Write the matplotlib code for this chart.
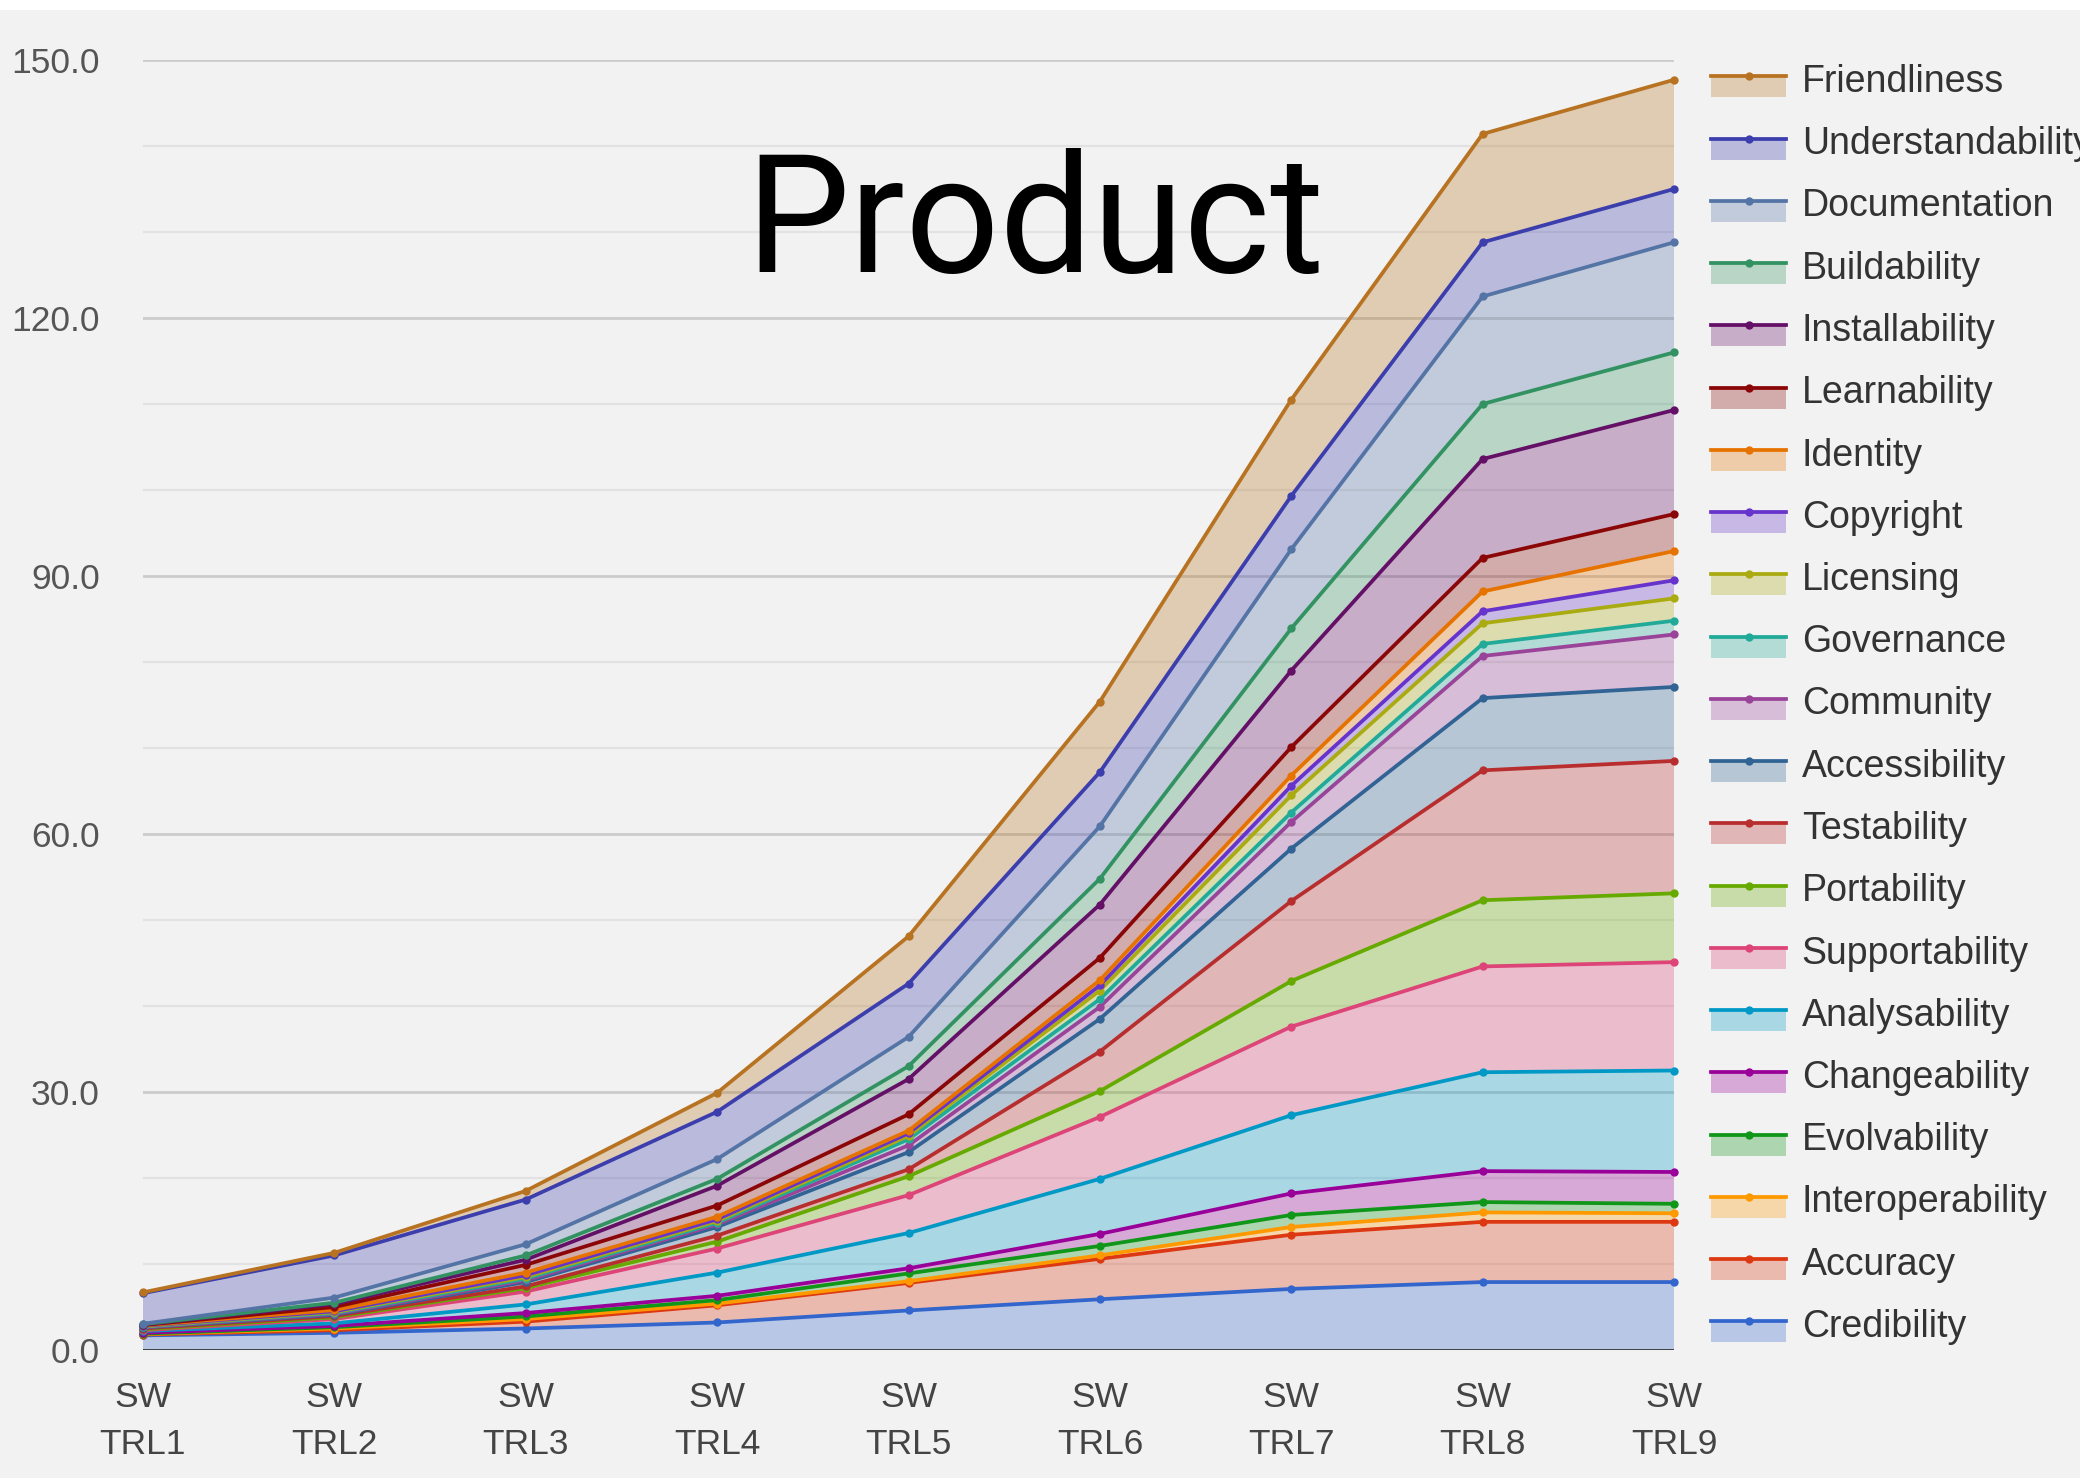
import numpy as np
import matplotlib
matplotlib.use("Agg")
import matplotlib.pyplot as plt
from matplotlib.legend_handler import HandlerBase
from matplotlib.patches import Rectangle
from matplotlib.lines import Line2D

# ---------------- data ----------------
categories = ["SW\nTRL1", "SW\nTRL2", "SW\nTRL3", "SW\nTRL4", "SW\nTRL5",
              "SW\nTRL6", "SW\nTRL7", "SW\nTRL8", "SW\nTRL9"]

# series listed bottom -> top of the stack
Credibility       = [1.70, 2.00, 2.50, 3.20, 4.60, 5.90, 7.10, 7.90, 7.90]
Accuracy          = [0.10, 0.30, 0.80, 2.00, 3.20, 4.70, 6.30, 7.00, 7.00]
Interoperability  = [0.05, 0.20, 0.30, 0.20, 0.20, 0.40, 0.90, 1.10, 1.00]
Evolvability      = [0.05, 0.15, 0.30, 0.40, 0.90, 1.10, 1.40, 1.20, 1.10]
Changeability     = [0.10, 0.15, 0.40, 0.50, 0.60, 1.40, 2.50, 3.60, 3.70]
Analysability     = [0.20, 0.30, 1.00, 2.70, 4.10, 6.40, 9.10, 11.50, 11.80]
Supportability    = [0.10, 0.50, 1.50, 2.80, 4.40, 7.20, 10.30, 12.30, 12.60]
Portability       = [0.10, 0.20, 0.40, 0.80, 2.20, 3.00, 5.30, 7.70, 8.00]
Testability       = [0.10, 0.15, 0.20, 0.70, 0.80, 4.60, 9.30, 15.10, 15.40]
Accessibility     = [0.10, 0.15, 0.50, 1.00, 2.00, 3.80, 6.10, 8.40, 8.60]
Community         = [0.05, 0.10, 0.20, 0.30, 0.80, 1.40, 3.10, 4.90, 6.10]
Governance        = [0.05, 0.10, 0.20, 0.20, 0.70, 0.90, 1.10, 1.40, 1.60]
Licensing         = [0.05, 0.10, 0.20, 0.20, 0.40, 1.00, 2.00, 2.40, 2.60]
Copyright         = [0.05, 0.10, 0.20, 0.20, 0.30, 0.60, 1.10, 1.40, 2.10]
Identity          = [0.05, 0.15, 0.30, 0.30, 0.30, 0.60, 1.20, 2.30, 3.40]
Learnability      = [0.05, 0.35, 0.90, 1.30, 1.90, 2.60, 3.30, 3.90, 4.30]
Installability    = [0.05, 0.35, 0.60, 2.30, 4.10, 6.20, 8.90, 11.50, 12.10]
Buildability      = [0.05, 0.15, 0.50, 0.80, 1.50, 3.00, 4.90, 6.40, 6.70]
Documentation     = [0.05, 0.60, 1.30, 2.30, 3.40, 6.10, 9.20, 12.50, 12.80]
Understandability = [3.55, 4.90, 5.20, 5.50, 6.20, 6.30, 6.20, 6.30, 6.20]
Friendliness      = [0.10, 0.30, 1.00, 2.20, 5.50, 8.20, 11.20, 12.60, 12.70]

series_names = ["Credibility", "Accuracy", "Interoperability", "Evolvability",
                "Changeability", "Analysability", "Supportability", "Portability",
                "Testability", "Accessibility", "Community", "Governance",
                "Licensing", "Copyright", "Identity", "Learnability",
                "Installability", "Buildability", "Documentation",
                "Understandability", "Friendliness"]
series_values = [Credibility, Accuracy, Interoperability, Evolvability,
                 Changeability, Analysability, Supportability, Portability,
                 Testability, Accessibility, Community, Governance,
                 Licensing, Copyright, Identity, Learnability,
                 Installability, Buildability, Documentation,
                 Understandability, Friendliness]
series_colors = ["#3366cc", "#dc3912", "#ff9900", "#109618", "#990099",
                 "#0099c6", "#dd4477", "#66aa00", "#b82e2e", "#316395",
                 "#994499", "#22aa99", "#aaaa11", "#6633cc", "#e67300",
                 "#8b0707", "#651067", "#329262", "#5574a6", "#3b3eac",
                 "#b77322"]

y_ticks = [0, 30, 60, 90, 120, 150]
y_tick_labels = ["0.0", "30.0", "60.0", "90.0", "120.0", "150.0"]

# ---------------- figure ----------------
BG = "#f2f2f2"
plt.rcParams["font.family"] = ["Liberation Sans", "DejaVu Sans"]

W, H = 2080, 1478
fig = plt.figure(figsize=(W / 100, H / 100), dpi=100, facecolor=BG)
# white strip on top
fig.patches.append(Rectangle((0, 1 - 10 / H), 1, 10 / H, transform=fig.transFigure,
                             facecolor="white", edgecolor="none", zorder=0))

ax = fig.add_axes([143 / W, 1 - 1350 / H, (1674 - 143) / W, (1350 - 60) / H])
ax.set_facecolor(BG)

x = np.arange(len(categories))
vals = np.array(series_values, dtype=float)
tops = np.cumsum(vals, axis=0)

# gridlines
for g in range(10, 151, 10):
    major = (g % 30 == 0)
    ax.axhline(g, color="#cccccc" if major else "#e2e2e2",
               lw=2.0 if major else 1.6, zorder=0)

ax.stackplot(x, vals, colors=series_colors, alpha=0.3, linewidth=0, zorder=1)

for i, (name, col) in enumerate(zip(series_names, series_colors)):
    ax.plot(x, tops[i], color=col, lw=2.7, marker="o", ms=6,
            markeredgewidth=0, zorder=3 + i, clip_on=False)

ax.axhline(0, color="#333333", lw=2.0, zorder=30)

ax.set_xlim(0, len(categories) - 1)
ax.set_ylim(0, 150)
ax.set_xticks(x)
ax.set_xticklabels(categories, fontsize=25.5, color="#444444", linespacing=1.55)
ax.set_yticks(y_ticks)
ax.set_yticklabels(y_tick_labels, fontsize=25.5, color="#555555")
ax.tick_params(axis="both", length=0)
ax.tick_params(axis="x", pad=22)
ax.tick_params(axis="y", pad=31)
for s in ax.spines.values():
    s.set_visible(False)

# title inside plot
fig.text(1035 / W, 1 - 272 / H, "Product", ha="center", va="baseline",
         fontsize=119, color="black", family=["Roboto", "Liberation Sans"],
         fontweight="normal")


# ---------------- legend ----------------
class AreaHandler(HandlerBase):
    def create_artists(self, legend, orig_handle, xdescent, ydescent,
                       width, height, fontsize, trans):
        col = orig_handle.get_color()
        x0, y0 = -xdescent, -ydescent
        rect = Rectangle((x0, y0 - 0.2 * height), width, 0.8 * height,
                         facecolor=col, alpha=0.3, edgecolor="none",
                         transform=trans)
        ly = y0 + 0.6 * height
        line = Line2D([x0, x0 + width], [ly, ly], color=col, lw=2.7,
                      transform=trans)
        dot = Line2D([x0 + width / 2], [ly], color=col, marker="o", ms=6,
                     markeredgewidth=0, transform=trans)
        return [rect, line, dot]


handles = [Line2D([], [], color=c) for c in series_colors][::-1]
labels = series_names[::-1]
leg = fig.legend(handles, labels, handler_map={Line2D: AreaHandler()},
                 loc="upper left", bbox_to_anchor=(1711 / W, 1 - 64 / H),
                 frameon=False, fontsize=27, borderpad=0, borderaxespad=0,
                 handlelength=2.0, handleheight=0.7, handletextpad=0.42,
                 labelspacing=0.70)
for t in leg.get_texts():
    t.set_color("#333333")

fig.savefig("out.png", dpi=100, facecolor=BG)
